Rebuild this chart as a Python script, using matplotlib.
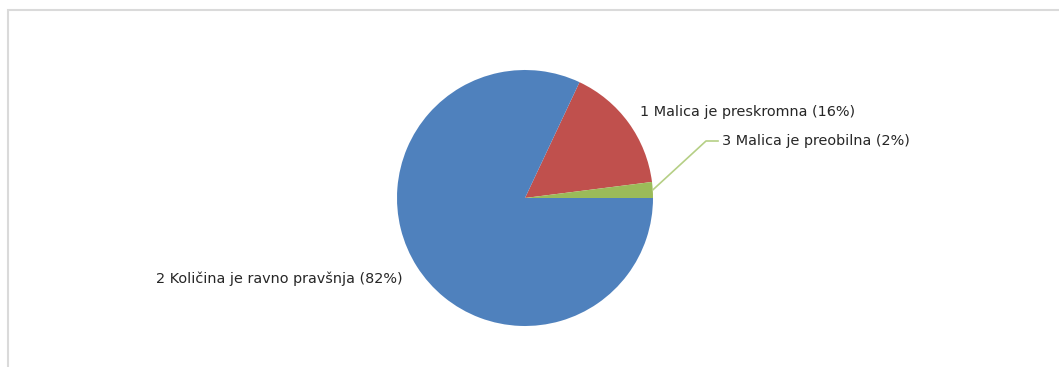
import numpy as np
import matplotlib.pyplot as plt
from matplotlib.patches import Rectangle

# Odgovori ankete o količini malice
labels = ["1 Malica je preskromna", "2 Količina je ravno pravšnja", "3 Malica je preobilna"]
shares = [16, 82, 2]
colors = ["#C0504D", "#4F81BD", "#9BBB59"]

W, H = 1059, 367
fig = plt.figure(figsize=(W / 100, H / 100), dpi=100)
ax = fig.add_axes([0, 0, 1, 1])

# okvir grafa
ax.add_patch(Rectangle((8, -20), W, H - 10 + 20, fill=False, edgecolor="#dadada", linewidth=1.5))

cx, cy, r = 525, H - 198, 128
start = 360 * shares[2] / sum(shares)
wedges, _ = ax.pie(shares, colors=colors, startangle=start, counterclock=True,
                   center=(cx, cy), radius=r, frame=True,
                   wedgeprops=dict(linewidth=0))
ax.set_xlim(0, W)
ax.set_ylim(0, H)
ax.axis("off")

txt = dict(fontsize=10.4, color="#262626", va="center", family="DejaVu Sans")
ax.text(640, H - 112, f"{labels[0]} ({shares[0]}%)", ha="left", **txt)
ax.text(403, H - 279, f"{labels[1]} ({shares[1]}%)", ha="right", **txt)

# oznaka z vodilno črto za majhen izsek
w = wedges[2]
mid = np.deg2rad((w.theta1 + w.theta2) / 2)
px, py = cx + r * np.cos(mid), cy + r * np.sin(mid)
ax.plot([px, 706, 718], [py, H - 141, H - 141], color="#b5cf85", linewidth=1.2)
ax.text(722, H - 141, f"{labels[2]} ({shares[2]}%)", ha="left", **txt)

fig.savefig("out.png", dpi=100)
